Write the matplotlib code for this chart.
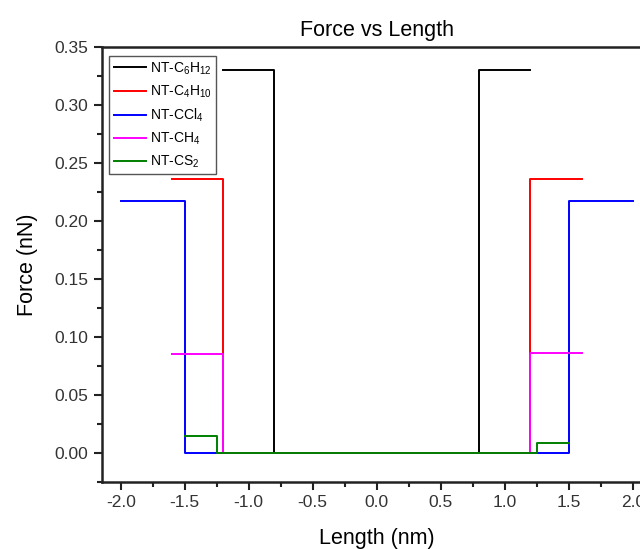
import matplotlib
matplotlib.use("Agg")
import matplotlib.pyplot as plt
from matplotlib.ticker import MultipleLocator

plt.rcParams['font.family'] = ['Liberation Sans', 'DejaVu Sans']
plt.rcParams['mathtext.fontset'] = 'custom'
plt.rcParams['mathtext.rm'] = 'Liberation Sans'
plt.rcParams['mathtext.it'] = 'Liberation Sans'

# step data: breakpoints (nm) and force level (nN) after each breakpoint
labels = ['NT-C$_6$H$_{12}$', 'NT-C$_4$H$_{10}$', 'NT-CCl$_4$', 'NT-CH$_4$', 'NT-CS$_2$']
colors = ['black', '#ff0000', '#0000ff', '#ff00ff', '#008000']
x_c6h12 = [-1.2, -0.8, 0.8, 1.2]
f_c6h12 = [0.330, 0.0, 0.330, 0.330]
x_c4h10 = [-1.6, -1.2, 1.2, 1.6]
f_c4h10 = [0.236, 0.0, 0.236, 0.236]
x_ccl4 = [-2.0, -1.5, 1.5, 2.0]
f_ccl4 = [0.217, 0.0, 0.217, 0.217]
x_ch4 = [-1.6, -1.2, 1.2, 1.6]
f_ch4 = [0.085, 0.0, 0.086, 0.086]
x_cs2 = [-1.5, -1.25, 1.25, 1.5]
f_cs2 = [0.015, 0.0, 0.009, 0.009]

series = [(x_c6h12, f_c6h12), (x_c4h10, f_c4h10), (x_ccl4, f_ccl4),
          (x_ch4, f_ch4), (x_cs2, f_cs2)]

fig = plt.figure(figsize=(6.4, 5.49), dpi=100)
ax = fig.add_axes([0.1586, 0.122, 0.860, 0.7924])

for (xs, fs), lab, col in zip(series, labels, colors):
    ax.step(xs, fs, where='post', color=col, lw=1.4, label=lab)

ax.set_xlim(-2.15, 2.15)
ax.set_ylim(-0.025, 0.35)
ax.xaxis.set_major_locator(MultipleLocator(0.5))
ax.xaxis.set_minor_locator(MultipleLocator(0.25))
ax.yaxis.set_major_locator(MultipleLocator(0.05))
ax.yaxis.set_minor_locator(MultipleLocator(0.025))
ax.xaxis.set_major_formatter(plt.FuncFormatter(lambda v, p: f'{v:.1f}'))
ax.yaxis.set_major_formatter(plt.FuncFormatter(lambda v, p: f'{v:.2f}'))
ax.tick_params(which='major', direction='out', length=6, width=1.5, labelsize=12.5,
               colors='#222222', labelcolor='#333333')
ax.tick_params(which='minor', direction='out', length=3.5, width=1.5, colors='#222222')
for s in ax.spines.values():
    s.set_linewidth(1.8)
    s.set_color('#222222')

ax.set_title('Force vs Length', fontsize=15.5, pad=8)
ax.set_xlabel('Length (nm)', fontsize=15.5, labelpad=13)
ax.set_ylabel('Force (nN)', fontsize=15.5, labelpad=12)

leg = ax.legend(loc='upper left', bbox_to_anchor=(0.0145, 0.979), fontsize=10,
                fancybox=False, edgecolor='#555555', framealpha=1,
                handlelength=2.3, handletextpad=0.3, labelspacing=0.48,
                borderpad=0.3, borderaxespad=0.0)
leg.get_frame().set_linewidth(1.0)

fig.savefig('out.png', dpi=100)
